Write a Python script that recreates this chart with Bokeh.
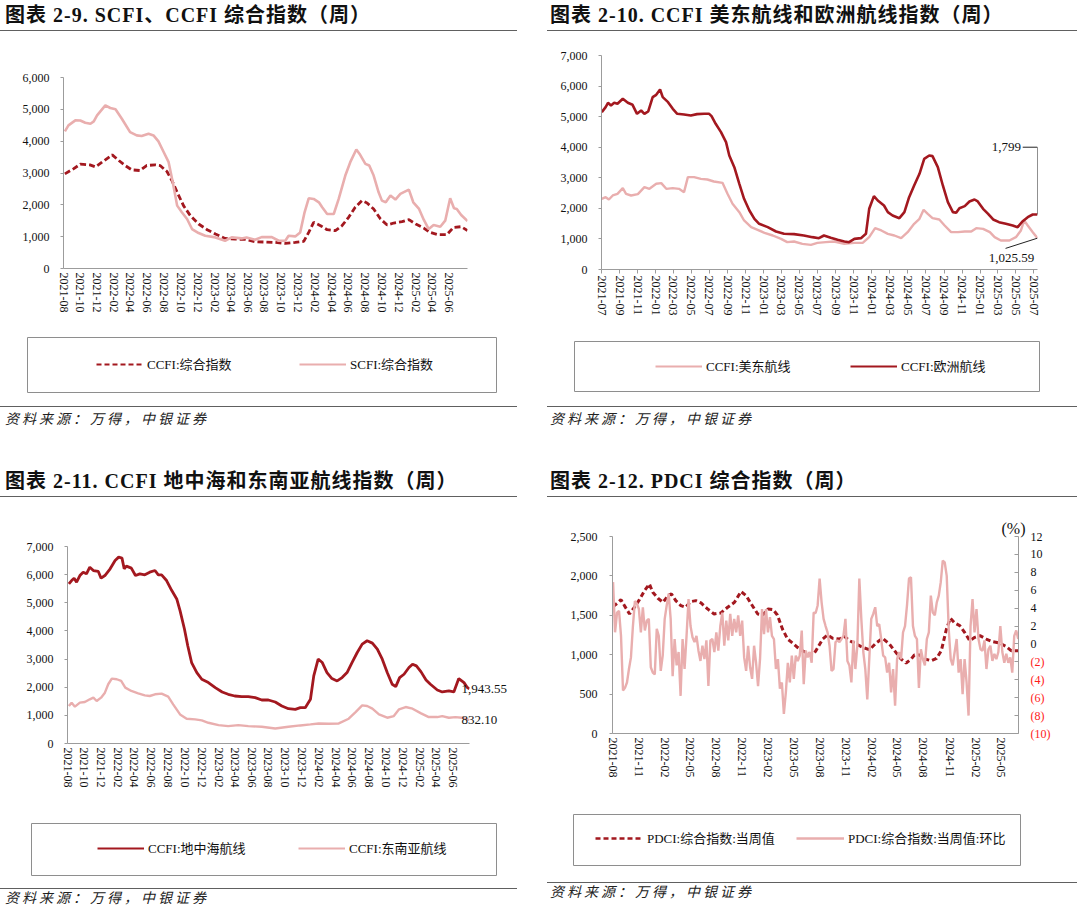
import math
import pandas as pd
from bokeh.plotting import figure
from bokeh.models import (Range1d, LinearAxis, FixedTicker, DatetimeTickFormatter,
                          NumeralTickFormatter, CustomJSTickFormatter, Legend, LegendItem,
                          Label, Div, Title)
from bokeh.layouts import column, row
from bokeh.embed import file_html
from bokeh.resources import INLINE

# ------------------------------------------------------------------ data
# 图表 2-9 : SCFI / CCFI composite
scfi = [("2021-08-06",4307),("2021-08-19",4496),("2021-09-13",4653),("2021-10-01",4650),("2021-10-19",4580),
        ("2021-11-07",4548),("2021-11-19",4620),("2021-12-01",4811),("2021-12-31",5126),("2022-01-18",5042),
        ("2022-02-06",5000),("2022-03-01",4706),("2022-03-31",4286),("2022-04-24",4181),("2022-05-12",4160),
        ("2022-06-06",4233),("2022-06-24",4181),("2022-07-12",3992),("2022-07-30",3676),("2022-08-18",3340),
        ("2022-09-02",2710),("2022-09-18",1975),("2022-10-05",1765),("2022-10-24",1555),("2022-11-11",1240),
        ("2022-12-05",1113),("2022-12-29",1029),("2023-02-04",977),("2023-03-11",872),("2023-04-04",977),
        ("2023-05-10",945),("2023-05-28",977),("2023-06-28",903),("2023-07-22",987),("2023-08-28",987),
        ("2023-09-22",872),("2023-10-16",872),("2023-10-28",1029),("2023-11-21",1008),("2023-12-09",1134),
        ("2023-12-25",1765),("2024-01-09",2206),("2024-01-27",2185),("2024-02-15",2080),("2024-02-27",1922),
        ("2024-03-16",1712),("2024-04-09",1712),("2024-04-27",2185),("2024-05-21",2920),("2024-06-08",3340),
        ("2024-06-30",3739),("2024-07-14",3571),("2024-08-02",3288),("2024-08-16",3235),("2024-09-01",2920),
        ("2024-09-19",2395),("2024-10-01",2132),("2024-10-15",2080),("2024-11-01",2290),("2024-11-19",2164),
        ("2024-12-07",2342),("2025-01-07",2479),("2025-01-23",2080),("2025-02-13",1870),("2025-03-02",1534),
        ("2025-03-20",1240),("2025-04-07",1366),("2025-05-01",1313),("2025-05-19",1502),("2025-06-06",2206),
        ("2025-06-20",1891),("2025-06-30",1870),("2025-07-16",1681),("2025-08-08",1490)]
ccfi = [("2021-08-06",2973),("2021-09-06",3130),("2021-10-01",3277),("2021-11-05",3256),("2021-11-25",3193),
        ("2021-12-19",3340),("2022-01-25",3571),("2022-02-18",3393),("2022-03-13",3235),("2022-04-06",3099),
        ("2022-05-06",3078),("2022-05-30",3235),("2022-06-30",3256),("2022-07-18",3235),("2022-08-12",3046),
        ("2022-08-30",2763),("2022-09-18",2395),("2022-10-11",1975),("2022-11-05",1660),("2022-12-05",1397),
        ("2023-01-05",1218),("2023-02-04",1082),("2023-03-11",945),("2023-04-17",924),("2023-05-23",914),
        ("2023-06-28",840),("2023-08-04",830),("2023-09-10",819),("2023-10-16",788),("2023-11-21",819),
        ("2023-12-22",851),("2024-01-09",1134),("2024-01-27",1450),("2024-02-21",1345),("2024-03-16",1218),
        ("2024-04-15",1187),("2024-05-09",1345),("2024-06-02",1607),("2024-06-26",1922),("2024-07-20",2132),
        ("2024-08-08",2059),("2024-09-01",1870),("2024-09-26",1555),("2024-10-20",1366),("2024-11-13",1429),
        ("2024-12-13",1471),("2025-01-07",1534),("2025-02-01",1397),("2025-03-02",1271),("2025-03-25",1134),
        ("2025-04-24",1061),("2025-05-25",1061),("2025-06-18",1292),("2025-07-16",1313),("2025-08-08",1195)]
ticks_29 = ["2021-08","2021-10","2021-12","2022-02","2022-04","2022-06","2022-08","2022-10","2022-12",
            "2023-02","2023-04","2023-06","2023-08","2023-10","2023-12","2024-02","2024-04","2024-06",
            "2024-08","2024-10","2024-12","2025-02","2025-04","2025-06"]

# 图表 2-10 : CCFI US-East / Europe
us_east = [("2021-07-02",2312),("2021-07-15",2366),("2021-07-26",2290),("2021-08-08",2421),("2021-08-24",2475),
           ("2021-09-11",2661),("2021-09-22",2475),("2021-10-09",2421),("2021-11-01",2465),("2021-11-23",2694),
           ("2021-12-10",2639),("2022-01-02",2803),("2022-01-19",2824),("2022-02-05",2639),("2022-02-27",2661),
           ("2022-03-20",2639),("2022-04-06",2530),("2022-04-19",3021),("2022-05-10",3021),("2022-06-02",2966),
           ("2022-06-24",2944),("2022-07-16",2879),("2022-08-14",2835),("2022-08-31",2475),("2022-09-17",2148),
           ("2022-10-10",1876),("2022-10-26",1603),("2022-11-19",1385),("2022-12-11",1298),("2023-01-03",1200),
           ("2023-01-31",1112),("2023-02-28",1003),("2023-03-21",894),("2023-04-13",916),("2023-05-11",840),
           ("2023-06-09",807),("2023-07-01",872),("2023-07-29",894),("2023-08-26",916),("2023-09-30",840),
           ("2023-11-03",872),("2023-12-01",872),("2023-12-23",1058),("2024-01-12",1352),("2024-02-02",1276),
           ("2024-02-24",1167),("2024-03-17",1112),("2024-04-09",1025),("2024-05-01",1221),("2024-05-23",1494),
           ("2024-06-10",1658),("2024-06-24",1952),("2024-07-08",1821),("2024-07-24",1679),("2024-08-16",1636),
           ("2024-09-03",1439),("2024-09-25",1221),("2024-10-18",1221),("2024-11-10",1243),("2024-12-02",1243),
           ("2024-12-19",1352),("2025-01-11",1330),("2025-02-03",1221),("2025-02-19",1058),("2025-03-12",949),
           ("2025-04-10",949),("2025-05-02",1058),("2025-05-19",1276),("2025-05-30",1603),("2025-06-11",1439),
           ("2025-06-28",1221),("2025-07-14",1025.59)]
europe = [("2021-07-02",5147),("2021-07-15",5311),("2021-07-23",5453),("2021-08-02",5365),("2021-08-13",5453),
          ("2021-08-24",5420),("2021-09-11",5583),("2021-09-28",5453),("2021-10-14",5387),("2021-10-29",5093),
          ("2021-11-12",5202),("2021-11-23",5093),("2021-12-06",5169),("2021-12-21",5638),("2022-01-02",5714),
          ("2022-01-15",5889),("2022-01-24",5638),("2022-02-11",5474),("2022-02-27",5256),("2022-03-14",5093),
          ("2022-04-06",5071),("2022-04-29",5038),("2022-05-20",5082),("2022-06-13",5093),("2022-06-30",5093),
          ("2022-07-08",5016),("2022-07-22",4766),("2022-08-09",4493),("2022-08-26",4166),("2022-09-06",3730),
          ("2022-09-23",3348),("2022-10-10",2803),("2022-10-26",2312),("2022-11-13",1930),("2022-11-30",1658),
          ("2022-12-16",1494),("2023-01-14",1385),("2023-02-11",1243),("2023-03-10",1167),("2023-04-13",1156),
          ("2023-05-16",1112),("2023-06-14",1058),("2023-07-06",1025),("2023-07-23",1112),("2023-08-15",1036),
          ("2023-09-07",971),("2023-09-30",916),("2023-10-16",894),("2023-11-03",1003),("2023-11-25",1025),
          ("2023-12-12",1167),("2023-12-23",1985),("2024-01-08",2399),("2024-01-21",2257),("2024-02-11",2094),
          ("2024-02-24",1876),("2024-03-11",1767),("2024-04-03",1679),("2024-04-20",1876),("2024-05-06",2366),
          ("2024-05-23",2748),("2024-06-10",3130),("2024-06-26",3621),("2024-07-13",3730),("2024-07-24",3708),
          ("2024-08-11",3348),("2024-08-28",2748),("2024-09-14",2203),("2024-10-01",1876),("2024-10-12",1854),
          ("2024-10-23",2006),("2024-11-10",2072),("2024-11-26",2225),("2024-12-13",2290),("2024-12-24",2225),
          ("2025-01-11",1985),("2025-01-28",1821),("2025-02-14",1636),("2025-03-06",1549),("2025-03-29",1494),
          ("2025-04-21",1439),("2025-05-08",1385),("2025-05-24",1570),("2025-06-11",1712),("2025-06-28",1799),
          ("2025-07-14",1799)]
ticks_210 = ["2021-07","2021-09","2021-11","2022-01","2022-03","2022-05","2022-07","2022-09","2022-11",
             "2023-01","2023-03","2023-05","2023-07","2023-09","2023-11","2024-01","2024-03","2024-05",
             "2024-07","2024-09","2024-11","2025-01","2025-03","2025-05","2025-07"]

# 图表 2-11 : CCFI Mediterranean / South-East Asia
med = [("2021-08-06",5672),("2021-08-16",5791),("2021-08-25",5874),("2021-09-03",5731),("2021-09-15",5969),
       ("2021-09-27",6088),("2021-10-09",6029),("2021-10-21",6266),("2021-11-03",6147),("2021-11-21",6112),
       ("2021-12-01",5874),("2021-12-15",5969),("2022-01-03",6207),("2022-01-21",6504),("2022-02-03",6623),
       ("2022-02-15",6587),("2022-02-23",6207),("2022-03-03",6302),("2022-03-21",6231),("2022-04-05",5969),
       ("2022-04-21",6029),("2022-05-09",5993),("2022-05-27",6088),("2022-06-15",6147),("2022-06-27",5993),
       ("2022-07-09",5993),("2022-07-27",5791),("2022-08-15",5434),("2022-09-02",5137),("2022-09-14",4721),
       ("2022-09-30",4067),("2022-10-12",3472),("2022-10-26",2877),("2022-11-14",2521),("2022-12-02",2283),
       ("2022-12-26",2164),("2023-01-20",1986),("2023-02-14",1831),("2023-03-08",1748),("2023-04-01",1688),
       ("2023-04-26",1665),("2023-05-20",1665),("2023-06-14",1629),("2023-07-08",1546),("2023-08-01",1546),
       ("2023-08-26",1474),("2023-09-19",1332),("2023-10-13",1237),("2023-11-07",1213),("2023-11-25",1272),
       ("2023-12-13",1272),("2024-01-01",1570),("2024-01-13",2402),("2024-01-29",2996),("2024-02-13",2877),
       ("2024-03-01",2521),("2024-03-19",2307),("2024-04-07",2224),("2024-04-25",2342),("2024-05-13",2521),
       ("2024-05-31",2877),("2024-06-19",3234),("2024-07-07",3531),("2024-07-25",3650),("2024-08-13",3567),
       ("2024-08-31",3353),("2024-09-18",2996),("2024-10-06",2521),("2024-10-24",2105),("2024-11-06",2021),
       ("2024-11-20",2342),("2024-12-06",2461),("2024-12-24",2699),("2025-01-06",2818),("2025-01-20",2759),
       ("2025-02-06",2545),("2025-02-24",2259),("2025-03-12",2105),("2025-04-06",1902),("2025-04-24",1831),
       ("2025-05-18",1867),("2025-06-05",1831),("2025-06-23",2307),("2025-07-12",2164),("2025-07-24",1990),
       ("2025-08-01",1943.55)]
sea = [("2021-08-06",1332),("2021-08-16",1451),("2021-08-28",1308),("2021-09-15",1451),("2021-10-03",1474),
       ("2021-10-21",1570),("2021-11-03",1629),("2021-11-15",1510),("2021-12-01",1629),("2021-12-15",1807),
       ("2021-12-27",2105),("2022-01-09",2307),("2022-01-27",2283),("2022-02-12",2224),("2022-02-27",1986),
       ("2022-03-21",1867),("2022-04-15",1784),("2022-05-09",1712),("2022-05-27",1688),("2022-06-15",1748),
       ("2022-07-09",1772),("2022-08-02",1665),("2022-08-20",1391),("2022-09-14",1034),("2022-10-08",880),
       ("2022-11-08",856),("2022-12-02",820),("2022-12-26",737),("2023-02-01",654),("2023-03-08",618),
       ("2023-04-14",654),("2023-05-20",618),("2023-07-08",595),("2023-08-26",535),("2023-10-13",595),
       ("2023-11-25",642),("2024-01-01",678),("2024-01-31",713),("2024-03-07",702),("2024-04-13",713),
       ("2024-05-19",880),("2024-06-13",1118),("2024-07-07",1356),("2024-07-25",1332),("2024-08-13",1237),
       ("2024-09-06",1034),("2024-10-06",916),("2024-10-30",975),("2024-11-18",1213),("2024-12-12",1296),
       ("2025-01-06",1237),("2025-02-06",1070),("2025-03-06",939),("2025-04-06",939),("2025-04-24",975),
       ("2025-05-18",916),("2025-06-11",939),("2025-07-05",916),("2025-08-01",832.10)]
ticks_211 = ticks_29

# 图表 2-12 : PDCI composite (left axis) and its week-on-week change in % (right axis)
pdci = [("2021-08-03",1610),("2021-08-19",1657),("2021-08-31",1699),("2021-09-12",1623),("2021-09-30",1517),
        ("2021-10-17",1602),("2021-11-04",1699),("2021-11-22",1814),("2021-12-09",1898),("2021-12-21",1792),
        ("2022-01-08",1716),("2022-01-26",1665),("2022-02-13",1750),("2022-02-25",1771),("2022-03-12",1686),
        ("2022-03-30",1623),("2022-04-16",1602),("2022-05-04",1674),("2022-05-22",1686),("2022-06-09",1657),
        ("2022-07-02",1581),("2022-07-25",1517),("2022-08-18",1530),("2022-09-11",1602),("2022-10-05",1665),
        ("2022-10-28",1801),("2022-11-15",1750),("2022-12-03",1644),("2022-12-26",1517),("2023-01-13",1504),
        ("2023-01-31",1581),("2023-02-18",1572),("2023-03-05",1504),("2023-03-23",1326),("2023-04-10",1199),
        ("2023-04-28",1148),("2023-05-15",1093),("2023-06-02",1051),("2023-06-21",1010),("2023-07-09",1000),
        ("2023-07-19",1051),("2023-08-12",1199),("2023-08-29",1250),("2023-09-16",1208),("2023-10-10",1199),
        ("2023-10-27",1233),("2023-11-14",1178),("2023-12-08",1136),("2023-12-31",1093),("2024-01-24",1064),
        ("2024-02-16",1148),("2024-03-10",1208),("2024-04-03",1136),("2024-04-21",1051),("2024-05-14",945),
        ("2024-06-01",894),("2024-06-19",945),("2024-06-30",996),("2024-07-18",996),("2024-08-05",945),
        ("2024-08-29",924),("2024-09-16",953),("2024-10-03",1051),("2024-10-21",1326),("2024-11-04",1462),
        ("2024-11-19",1403),("2024-12-07",1369),("2024-12-24",1284),("2025-01-11",1178),("2025-01-29",1220),
        ("2025-02-16",1242),("2025-03-10",1199),("2025-04-02",1165),("2025-04-26",1148),("2025-05-19",1106),
        ("2025-06-06",1051),("2025-07-01",1051)]
pdci_wow_start = "2021-08-03"   # weekly series, one value per week
pdci_wow = [6.9,1.3,3.5,3.7,0.9,-5.2,-4.9,-4.3,-2.8,-1.5,2.0,4.8,4.5,3.9,1.3,4.1,1.5,2.6,2.8,-2.6,
            -3.2,-3.4,1.7,0.9,-3.0,-1.3,2.8,4.3,5.6,2.8,-3.6,0.55,-2.4,-0.9,-5.8,0.55,-2.8,0.9,5.0,2.0,
            0.74,0.2,0.9,-0.75,-1.9,-0.2,-1.7,0.4,-4.7,0.4,0.55,-0.9,1.3,-0.75,2.0,3.5,-0.2,2.6,0.4,3.35,
            0.9,2.8,1.3,3.2,0.9,2.6,-1.5,-3.0,-0.2,-2.6,-3.9,-0.2,-2.1,-4.7,-1.7,3.9,1.1,3.9,1.3,3.0,
            0.9,0.55,-2.8,-1.7,-5.0,-4.3,-7.8,-5.4,-2.1,-4.3,-1.3,-3.9,-1.3,-1.9,-1.3,1.5,-4.5,-0.75,-1.5,-0.9,
            -2.1,3.5,3.46,4.3,7.3,4.65,2.8,2.0,1.3,-0.2,-3.0,-2.8,0.2,0.4,0.2,0.55,0.9,2.8,-1.9,-2.4,
            -4.3,0.4,-2.8,-0.2,7.3,2.8,-0.9,-2.8,-6.2,-1.7,2.8,3.35,4.1,2.0,2.2,0.55,-1.3,-1.5,-3.2,-2.1,
            -5.4,-2.8,-6.9,-1.7,-0.9,-1.7,1.3,2.0,4.3,7.3,7.45,2.0,0.9,0.55,-4.9,-0.6,-1.7,-2.4,0.55,1.3,
            5.4,3.5,3.2,4.65,5.4,6.9,9.3,9.1,7.6,1.7,-1.7,-2.4,-0.9,0.55,-3.2,-1.7,-5.6,-1.7,-4.3,-8.0,
            2.0,5.0,1.3,3.9,0.55,-0.6,-0.75,0.4,-2.8,-0.6,-0.2,-1.9,-1.1,-1.7,-0.9,2.0,-0.9,-2.1,-1.1,-2.1,
            -1.5,-3.2,0.9,1.5,0.55]
ticks_212 = ["2021-08","2021-11","2022-02","2022-05","2022-08","2022-11","2023-02","2023-05","2023-08",
             "2023-11","2024-02","2024-05","2024-08","2024-11","2025-02","2025-05"]
pct_ticks = [12, 10, 8, 6, 4, 2, 0, -2, -4, -6, -8, -10]

titles = ["图表 2-9. SCFI、CCFI 综合指数（周）",
          "图表 2-10. CCFI 美东航线和欧洲航线指数（周）",
          "图表 2-11. CCFI 地中海和东南亚航线指数（周）",
          "图表 2-12. PDCI 综合指数（周）"]
source_text = "资料来源：万得，中银证券"

# ------------------------------------------------------------------ style
DARK = "#A3181F"
PINK = "#E9AEAE"
AXIS = "#9C9C9C"
SERIF = "'Liberation Serif', 'Noto Sans CJK SC'"
CJK = "'Noto Sans CJK SC'"


def ms(s):
    return pd.Timestamp(s).value / 1e6


def dates(pairs):
    return pd.to_datetime([d for d, _ in pairs])


def vals(pairs):
    return [v for _, v in pairs]


def title_div(text, width, ml=0, mt=0, pad=0):
    html = (f'<div style="font-family:{SERIF};font-size:20px;font-weight:bold;color:#111;'
            f'line-height:30px;padding-left:{pad}px;border-bottom:1.6px solid #606060;width:{width-pad}px;'
            f'white-space:nowrap;letter-spacing:1px">{text}</div>')
    return Div(text=html, width=width, height=33, margin=(mt, 0, 0, ml))


def source_div(width, ml=0, mt=0, h=26, pad=5):
    html = (f'<div style="border-top:1.6px solid #606060;width:{width-pad}px;padding-left:{pad}px;'
            f'font-family:{CJK};font-style:italic;font-size:14px;line-height:{h-4}px;color:#222;'
            f'letter-spacing:3px;white-space:nowrap">{source_text}</div>')
    return Div(text=html, width=width, height=h, margin=(mt, 0, 0, ml))


def main_fig(w, h, mbl, mbr, mbt, mbb, x0, x1, y1, ystep, xticks, xtick_out):
    p = figure(width=w, height=h, x_axis_type="datetime", title=None,
               x_range=Range1d(ms(x0), ms(x1)), y_range=Range1d(0, y1),
               toolbar_location=None, output_backend="svg",
               min_border_left=mbl, min_border_right=mbr, min_border_top=mbt,
               min_border_bottom=mbb, margin=(0, 0, 0, 0))
    p.xgrid.visible = False
    p.ygrid.visible = False
    p.outline_line_color = None
    xa = p.xaxis[0]
    xa.ticker = FixedTicker(ticks=[ms(t + "-01") for t in xticks])
    xa.formatter = DatetimeTickFormatter(days="%Y-%m", months="%Y-%m", years="%Y-%m")
    xa.major_label_orientation = -math.pi / 2
    xa.axis_line_color = AXIS
    xa.minor_tick_line_color = None
    if xtick_out:
        xa.major_tick_line_color = AXIS
        xa.major_tick_out = xtick_out
        xa.major_tick_in = 0
        xa.major_label_standoff = 2
    else:
        xa.major_tick_line_color = None
        xa.major_tick_out = 0
        xa.major_tick_in = 0
        xa.major_label_standoff = 4
    ya = p.yaxis[0]
    ya.ticker = FixedTicker(ticks=list(range(0, int(y1) + 1, ystep)))
    ya.formatter = NumeralTickFormatter(format="0,0")
    ya.axis_line_color = AXIS
    ya.major_tick_line_color = AXIS
    ya.major_tick_out = 3
    ya.major_tick_in = 0
    ya.minor_tick_line_color = None
    ya.major_label_standoff = 11
    for ax in (xa, ya):
        ax.major_label_text_font = SERIF
        ax.major_label_text_font_size = "12px"
        ax.major_label_text_color = "#111"
    return p


def legend_box(w, h, ml, items, loc, spacing, label_width, glyph_width=47):
    lf = figure(width=w, height=h, title=None, toolbar_location=None, output_backend="svg",
                x_axis_location=None, y_axis_location=None, x_range=Range1d(0, 1),
                y_range=Range1d(0, 1), min_border=1, margin=(0, 0, 0, 0))
    lf.xgrid.visible = False
    lf.ygrid.visible = False
    lf.outline_line_color = "#8E8E8E"
    lf.outline_line_width = 1
    its = []
    for label, color, dash, lw in items:
        # legend-only sample renderer (holds no visible data)
        r = lf.line(x=[float("nan")], y=[float("nan")], line_color=color, line_dash=dash, line_width=lw)
        its.append(LegendItem(label=label, renderers=[r]))
    leg = Legend(items=its, orientation="horizontal", location=loc, padding=0, margin=0,
                 spacing=spacing, label_width=label_width, glyph_width=glyph_width,
                 glyph_height=18, label_standoff=4, border_line_color=None,
                 background_fill_alpha=0, label_text_font=SERIF, label_text_font_size="13px",
                 label_text_color="#111")
    lf.add_layout(leg)
    return row(lf, margin=(0, 0, 0, ml))


def lab(x, y, text, align="left", baseline="middle", color="#111", size="13px", xo=0, yo=0):
    return Label(x=x, y=y, text=text, text_align=align, text_baseline=baseline,
                 text_color=color, text_font=SERIF, text_font_size=size, x_offset=xo, y_offset=yo)


def label_axis(ticks, formatter, standoff, color, size, y_range_name="default"):
    ax = LinearAxis(y_range_name=y_range_name, ticker=FixedTicker(ticks=ticks), formatter=formatter)
    ax.axis_line_color = None
    ax.major_tick_line_color = None
    ax.minor_tick_line_color = None
    ax.major_tick_out = 0
    ax.major_tick_in = 0
    ax.major_label_standoff = standoff
    ax.major_label_text_font = SERIF
    ax.major_label_text_font_size = size
    ax.major_label_text_color = color
    return ax


# ------------------------------------------------------------------ 2-9
p1 = main_fig(540, 303, 63, 73, 44, 68, "2021-08-01", "2025-08-08", 6000, 1000, ticks_29, 0)
p1.line(dates(ccfi), vals(ccfi), line_color=DARK, line_width=2.8, line_dash="6 3")
p1.line(dates(scfi), vals(scfi), line_color=PINK, line_width=2.6)
lg1 = legend_box(471, 57, 26, [("CCFI:综合指数", DARK, "5 3", 2.2), ("SCFI:综合指数", PINK, "solid", 2.2)],
                 (69, 19), 52, 100)
col1 = column(title_div(titles[0], 522, 0, 0, 5), p1, lg1, source_div(522, 0, 13, 26, 5))

# ------------------------------------------------------------------ 2-10
p2 = main_fig(540, 307, 61, 43, 22, 71, "2021-07-01", "2025-07-14", 7000, 1000, ticks_210, 4)
p2.line(dates(us_east), vals(us_east), line_color=PINK, line_width=2.4)
p2.line(dates(europe), vals(europe), line_color=DARK, line_width=2.6)
eu_end = pd.Timestamp(europe[-1][0])
eu_last = europe[-1][1]
us_end = pd.Timestamp(us_east[-1][0])
us_last = us_east[-1][1]
CALL_EU_Y = 4000          # callout text level (index points)
CALL_US_Y = 690           # callout leader start level
CALL_US_TXT_Y = 360       # callout text level
p2.line([eu_end - pd.Timedelta(days=50), eu_end, eu_end], [CALL_EU_Y, CALL_EU_Y, eu_last],
        line_color="#222", line_width=1)
p2.add_layout(lab(ms(eu_end - pd.Timedelta(days=56)), CALL_EU_Y, f"{eu_last:,.0f}", align="right"))
p2.line([us_end - pd.Timedelta(days=108), us_end], [CALL_US_Y, us_last], line_color="#222", line_width=1)
p2.add_layout(lab(ms(us_end - pd.Timedelta(days=88)), CALL_US_TXT_Y, f"{us_last:,.2f}", align="center"))
lg2 = legend_box(467, 52, 33, [("CCFI:美东航线", PINK, "solid", 2.2), ("CCFI:欧洲航线", DARK, "solid", 2.2)],
                 (81, 16), 44, 100)
col2 = column(title_div(titles[1], 533, 7, 0, 3), p2, lg2, source_div(533, 7, 14, 26, 3))

# ------------------------------------------------------------------ 2-11
p3 = main_fig(540, 323, 67, 71, 47, 79, "2021-08-01", "2025-08-01", 7000, 1000, ticks_211, 0)
p3.line(dates(med), vals(med), line_color=DARK, line_width=2.8)
p3.line(dates(sea), vals(sea), line_color=PINK, line_width=2.4)
p3.add_layout(label_axis([med[-1][1], sea[-1][1]], NumeralTickFormatter(format="0,0.00"),
                         -8, "#111", "13px"), "right")
lg3 = legend_box(467, 54, 30, [("CCFI:地中海航线", DARK, "solid", 2.2), ("CCFI:东南亚航线", PINK, "solid", 2.2)],
                 (66, 18), 45, 105)
col3 = column(title_div(titles[2], 522, 0, 34, 5), p3, lg3, source_div(522, 0, 12, 21, 5))

# ------------------------------------------------------------------ 2-12
p4 = main_fig(540, 314, 72, 62, 37, 80, "2021-08-01", "2025-07-02", 2500, 500, ticks_212, 0)
p4.yaxis[0].major_label_standoff = 12
p4.extra_y_ranges = {"pct": Range1d(-10, 12)}
ra = LinearAxis(y_range_name="pct", ticker=FixedTicker(ticks=pct_ticks),
                formatter=CustomJSTickFormatter(code="return tick < 0 ? '' : tick.toFixed(0);"))
ra.axis_line_color = AXIS
ra.major_tick_line_color = AXIS
ra.major_tick_in = 4
ra.major_tick_out = 0
ra.minor_tick_line_color = None
ra.major_label_standoff = 12
ra.major_label_text_font = SERIF
ra.major_label_text_font_size = "12px"
ra.major_label_text_color = "#111"
p4.add_layout(ra, "right")
p4.add_layout(label_axis([t for t in pct_ticks if t < 0],
                         CustomJSTickFormatter(code="return '(' + (-tick).toFixed(0) + ')';"),
                         -15, "#FF1A1A", "12px", "pct"), "right")
p4.add_layout(Title(text="(%)", align="right", text_font=SERIF, text_font_size="16px",
                    text_font_style="normal", text_color="#111", standoff=0, offset=-7), "above")
p4.line(dates(pdci), vals(pdci), line_color=DARK, line_width=3, line_dash="5 3")
wow_dates = pd.date_range(pdci_wow_start, periods=len(pdci_wow), freq="7D")
p4.line(wow_dates, pdci_wow, line_color=PINK, line_width=2.4, y_range_name="pct")
lg4 = legend_box(449, 53, 32, [("PDCI:综合指数:当周值", DARK, "5 3", 2.4),
                               ("PDCI:综合指数:当周值:环比", PINK, "solid", 2.4)],
                 (22, 18), 4, 145, 48)
col4 = column(title_div(titles[3], 533, 7, 34, 3), p4, lg4, source_div(533, 7, 16, 21, 3))

layout = column(row(col1, col2), row(col3, col4))
open("out.html", "w").write(file_html(layout, INLINE, "航运指数"))
